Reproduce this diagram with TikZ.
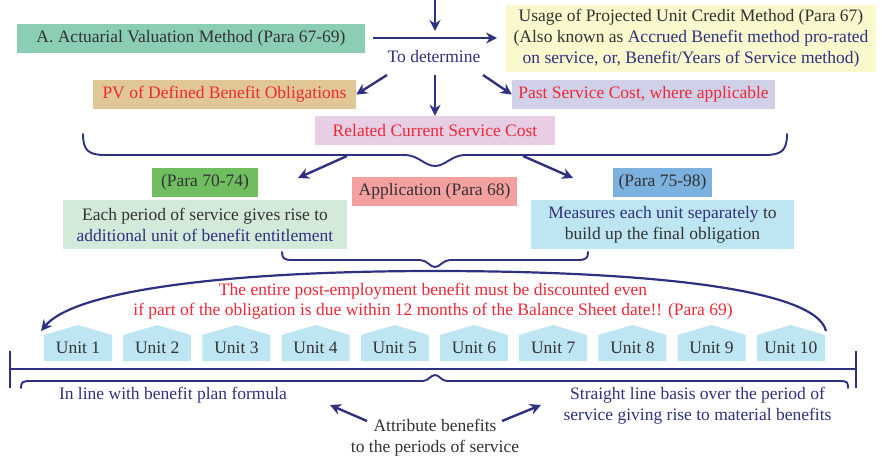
\documentclass[tikz,border=0pt]{standalone}
\usepackage{fontspec}
\setmainfont{Liberation Serif}
\usetikzlibrary{arrows.meta}
\definecolor{navy}{RGB}{46,49,128}
\definecolor{txtdark}{RGB}{50,50,50}
\definecolor{txtred}{RGB}{237,40,55}
\definecolor{cA}{RGB}{140,206,180}
\definecolor{cYel}{RGB}{250,248,205}
\definecolor{cTan}{RGB}{226,199,150}
\definecolor{cLav}{RGB}{208,208,232}
\definecolor{cPink}{RGB}{232,206,228}
\definecolor{cGreen}{RGB}{112,190,96}
\definecolor{cSalmon}{RGB}{244,160,160}
\definecolor{cBlue}{RGB}{125,178,224}
\definecolor{cLGreen}{RGB}{211,234,218}
\definecolor{cLBlue}{RGB}{190,230,242}
\tikzset{
  box/.style={rectangle, inner sep=0pt, align=center, text=txtdark},
  arr/.style={draw=navy, line width=2.4pt, -{Stealth[length=11pt,width=11pt]}},
  brace/.style={draw=navy, line width=1.9pt, line cap=round},
  lbl/.style={inner sep=0pt, align=center},
  unitshape/.style={fill=cLBlue, draw=none},
}
\newcommand{\fs}{\fontsize{17.5}{21}\selectfont}
\begin{document}
\begin{tikzpicture}[x=1pt,y=1pt,font=\fs]
\useasboundingbox (0,0) rectangle (882,-456);

% top row
\coordinate (topin) at (435,0);
\node[box, fill=cA, minimum width=348pt, minimum height=29pt] (A) at (191,-38.5) {A. Actuarial Valuation Method (Para 67-69)};
\node[box, fill=cYel, minimum width=370pt, minimum height=67pt] (Y) at (691,-38.5)
 {Usage of Projected Unit Credit Method (Para 67)\\
  (Also known as \textcolor{navy}{Accrued Benefit method pro-rated}\\
  \textcolor{navy}{on service, or, Benefit/Years of Service method)}};
\coordinate (hstart) at (373,-38);
\coordinate (hend) at (497,-38);
\node[lbl, text=navy] (det) at (434,-57) {To determine};
\coordinate (topend) at (435,-31);

\draw[arr] (topin) -- (topend);
\draw[arr] (hstart) -- (hend);

\node[box, fill=cTan, text=txtred, minimum width=263pt, minimum height=29pt] (PV) at (224.5,-94.5) {PV of Defined Benefit Obligations};
\node[box, fill=cLav, text=txtred, minimum width=263pt, minimum height=29pt] (PS) at (643.5,-94.5) {Past Service Cost, where applicable};
\node[box, fill=cPink, text=txtred, minimum width=240pt, minimum height=29pt] (RC) at (435,-130.5) {Related Current Service Cost};

\coordinate (d1) at (387,-75);
\coordinate (d2) at (435,-75);
\coordinate (d3) at (483,-75);
\draw[arr] (d1) -- (PV.east);
\draw[arr] (d2) -- (RC.north);
\draw[arr] (d3) -- (PS.west);

% big brace
\draw[brace] (83,-134) .. controls (83,-150) and (88,-155) .. (105,-155) -- (405,-155)
  .. controls (418,-155) and (425,-166) .. (435,-166)
  .. controls (445,-166) and (452,-155) .. (465,-155) -- (765,-155)
  .. controls (782,-155) and (787,-150) .. (787,-134);

% middle boxes
\node[box, fill=cGreen, minimum width=106pt, minimum height=29pt] (P70) at (205,-182.5) {(Para 70-74)};
\node[box, fill=cSalmon, minimum width=165pt, minimum height=29pt] (APP) at (434.5,-191.5) {Application (Para 68)};
\node[box, fill=cBlue, minimum width=99pt, minimum height=29pt] (P75) at (662.5,-182.5) {(Para 75-98)};
\node[box, fill=cLGreen, minimum width=284pt, minimum height=49pt] (LG) at (205,-224.5)
 {Each period of service gives rise to\\\textcolor{navy}{additional unit of benefit entitlement}};
\node[box, fill=cLBlue, minimum width=263pt, minimum height=49pt] (LB) at (662.5,-224.5)
 {\textcolor{navy}{Measures each unit separately} to\\build up the final obligation};

\coordinate (b1) at (347,-156);
\coordinate (b2) at (523,-156);
\coordinate (b1e) at (298,-178);
\coordinate (b2e) at (573,-178);
\draw[arr] (b1) -- (b1e);
\draw[arr] (b2) -- (b2e);

% small brace
\draw[brace] (282,-252) .. controls (282,-258) and (284,-260) .. (292,-260) -- (420,-260)
  .. controls (427,-260) and (430,-267) .. (435,-267)
  .. controls (440,-267) and (443,-260) .. (450,-260) -- (578,-260)
  .. controls (586,-260) and (588,-258) .. (588,-252);

% big arc arrow
\coordinate (arcS) at (826,-331);
\coordinate (arcE) at (41,-331);
\draw[arr, line width=2.2pt] (arcS) .. controls (815,-285) and (620,-271) .. (435,-271)
   .. controls (230,-271) and (75,-290) .. (arcE);

\node[lbl, text=txtred] (warn) at (433,-301)
 {The entire post-employment benefit must be discounted even\\[-1pt]
  if part of the obligation is due within 12 months of the Balance Sheet date!! (Para 69)};

% units
\foreach \i in {1,...,10}{
  \pgfmathsetmacro{\L}{44+79.2*(\i-1)}
  \pgfmathsetmacro{\R}{\L+68}
  \pgfmathsetmacro{\M}{\L+34}
  \fill[unitshape] (\L,-361) -- (\L,-335) -- (\M,-325) -- (\R,-335) -- (\R,-361) -- cycle;
  \node[lbl, text=txtdark] (u\i) at (\M,-348) {Unit \i};
}

% timeline
\coordinate (tl) at (10,-369);
\coordinate (tr) at (856,-369);
\draw[draw=navy, line width=2.4pt] (tl) -- (tr);
\draw[draw=navy, line width=2.4pt] (10,-351) -- (10,-388);
\draw[draw=navy, line width=2.4pt] (856,-351) -- (856,-388);

% bottom brace
\draw[brace] (21,-388) .. controls (21,-382) and (23,-381) .. (30,-381) -- (423,-381)
  .. controls (428,-381) and (431,-375) .. (435,-375)
  .. controls (439,-375) and (442,-381) .. (447,-381) -- (840,-381)
  .. controls (847,-381) and (848,-382) .. (848,-388);

\node[lbl, text=navy] (inline) at (173,-395) {In line with benefit plan formula};
\node[lbl, text=navy] (straight) at (697.5,-405.5) {Straight line basis over the period of\\service giving rise to material benefits};
\node[lbl, text=txtdark] (attr) at (435,-438) {Attribute benefits\\to the periods of service};

\coordinate (a1) at (367,-421);
\coordinate (a1e) at (330,-405);
\coordinate (a2) at (502,-421);
\coordinate (a2e) at (541,-405);
\draw[arr] (a1) -- (a1e);
\draw[arr] (a2) -- (a2e);
\end{tikzpicture}
\end{document}
